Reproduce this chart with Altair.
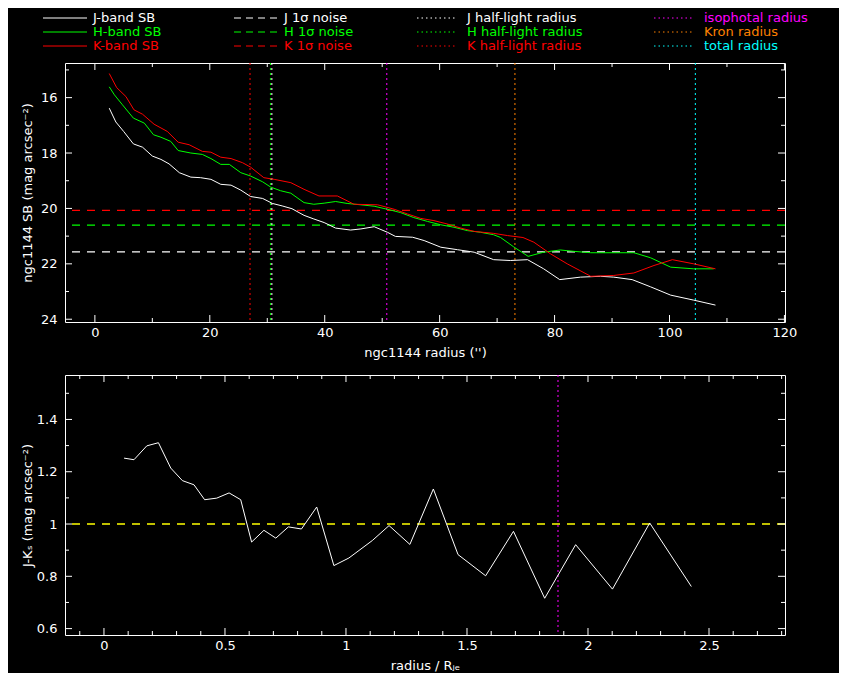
import altair as alt
import pandas as pd

# ---------------- data ----------------
j_r = [2.5, 3.65, 5.0, 6.7, 8.3, 10.0, 11.5, 12.9, 14.7, 16.7, 18.4, 20.2, 21.9, 23.7, 25.4,
       27.1, 29.2, 30.9, 32.6, 34.3, 36.4, 38.1, 39.9, 41.9, 44.5, 46.3, 48.6, 50.9, 52.3, 55.3,
       57.3, 60.2, 63.1, 66.0, 69.4, 72.3, 75.3, 78.1, 80.9, 84.5, 88.0, 90.3, 93.5, 96.7, 100.2,
       104.2, 108.0]
j_sb = [16.38, 16.88, 17.22, 17.67, 17.79, 18.11, 18.23, 18.39, 18.71, 18.87, 18.89, 18.95, 19.13,
        19.16, 19.34, 19.57, 19.64, 19.82, 19.91, 20.01, 20.25, 20.38, 20.51, 20.71, 20.78, 20.74,
        20.66, 20.86, 21.01, 21.04, 21.16, 21.40, 21.49, 21.58, 21.85, 21.88, 21.85, 22.18, 22.57,
        22.48, 22.45, 22.48, 22.57, 22.83, 23.13, 23.31, 23.49]

h_r = [2.5, 3.4, 4.8, 6.7, 8.6, 10.2, 11.5, 13.2, 14.5, 16.7, 18.7, 20.2, 21.9, 23.4, 25.4, 27.1,
       29.2, 30.6, 32.3, 34.1, 36.4, 38.1, 39.9, 41.9, 43.9, 46.3, 48.6, 50.9, 53.2, 55.5, 57.9,
       60.2, 62.5, 64.8, 67.1, 69.4, 70.6, 72.9, 75.4, 78.1, 81.0, 83.4, 86.3, 93.8, 96.7, 100.2,
       104.2, 107.7]
h_sb = [15.61, 15.90, 16.26, 16.74, 16.92, 17.34, 17.43, 17.58, 17.91, 18.00, 18.05, 18.20, 18.41,
        18.41, 18.71, 18.83, 19.04, 19.23, 19.36, 19.45, 19.79, 19.85, 19.81, 19.75, 19.82, 19.87,
        19.92, 20.03, 20.15, 20.33, 20.47, 20.59, 20.68, 20.80, 20.86, 20.95, 21.05, 21.39, 21.73,
        21.58, 21.50, 21.55, 21.60, 21.60, 21.78, 22.12, 22.18, 22.18]

k_r = [2.5, 3.8, 5.4, 6.8, 8.3, 10.3, 12.6, 14.5, 16.4, 18.7, 20.2, 21.9, 23.7, 25.7, 27.1, 29.4,
       31.2, 34.1, 36.4, 39.0, 42.2, 45.1, 49.2, 52.1, 54.4, 56.7, 59.0, 61.3, 63.7, 66.0, 69.4,
       71.8, 74.5, 76.4, 79.3, 82.2, 86.3, 90.3, 93.8, 97.3, 100.5, 104.2, 108.0]
k_sb = [15.13, 15.64, 15.96, 16.44, 16.60, 16.96, 17.22, 17.61, 17.70, 17.94, 17.97, 18.15, 18.20,
        18.35, 18.51, 18.89, 18.95, 19.07, 19.31, 19.55, 19.55, 19.85, 19.87, 20.03, 20.20, 20.36,
        20.44, 20.56, 20.71, 20.83, 20.90, 20.98, 21.05, 21.22, 21.64, 22.00, 22.45, 22.42, 22.33,
        22.06, 21.85, 22.00, 22.18]

noise_band = ["J", "H", "K"]
noise_sb = [21.57, 20.60, 20.07]

radius_names = ["J half-light", "H half-light", "K half-light", "isophotal", "Kron", "total"]
radius_vals = [30.8, 30.55, 27.0, 50.8, 73.1, 104.5]

jk_x = [0.083, 0.124, 0.177, 0.225, 0.276, 0.324, 0.372, 0.416, 0.466, 0.517, 0.565, 0.610,
        0.661, 0.710, 0.762, 0.816, 0.879, 0.950, 1.012, 1.109, 1.178, 1.264, 1.361, 1.463,
        1.577, 1.692, 1.821, 1.949, 2.101, 2.255, 2.427]
jk_val = [1.252, 1.246, 1.299, 1.311, 1.214, 1.166, 1.150, 1.093, 1.099, 1.119, 1.093, 0.931,
          0.976, 0.946, 0.989, 0.981, 1.065, 0.841, 0.870, 0.937, 0.994, 0.922, 1.134, 0.883,
          0.802, 0.972, 0.716, 0.921, 0.751, 1.004, 0.761]
jk_ref = 1.0
iso_rje = 1.876

# tick values
top_xmaj = [0, 20, 40, 60, 80, 100, 120]
top_xmin = [10, 30, 50, 70, 90, 110]
top_ymaj = [16, 18, 20, 22, 24]
top_ymin = [15, 17, 19, 21, 23]
bot_xmaj = [0, 0.5, 1, 1.5, 2, 2.5]
bot_xmin = [-0.1, 0.1, 0.2, 0.3, 0.4, 0.6, 0.7, 0.8, 0.9, 1.1, 1.2, 1.3, 1.4, 1.6, 1.7, 1.8,
            1.9, 2.1, 2.2, 2.3, 2.4, 2.6, 2.7, 2.8]
bot_ymaj = [0.6, 0.8, 1.0, 1.2, 1.4]
bot_ymin = [0.7, 0.9, 1.1, 1.3, 1.5]

# legend content
leg_labels = [["J-band SB", "H-band SB", "K-band SB"],
              ["J 1\u03c3 noise", "H 1\u03c3 noise", "K 1\u03c3 noise"],
              ["J half-light radius", "H half-light radius", "K half-light radius"],
              ["isophotal radius", "Kron radius", "total radius"]]

# ---------------- styles / layout ----------------
WHITE, GREEN, RED = "#ffffff", "#00ff00", "#ff0000"
MAGENTA, ORANGE, CYAN, YELLOW = "#ff00ff", "#ff8000", "#00ffff", "#ffff00"
band_color = {"J": WHITE, "H": GREEN, "K": RED}
radius_color = [WHITE, GREEN, RED, MAGENTA, ORANGE, CYAN]
leg_colors = [[WHITE, GREEN, RED]] * 3 + [[MAGENTA, ORANGE, CYAN]]
leg_styles = ["solid", "dashed", "dotted", "dotted"]
DASH = [8, 7]
DOT = [2, 3]
FONT = "DejaVu Sans"

W = 720
H1 = 259
H2 = 260
MAJ, MIN = 7, 4

leg_line_x0 = [-22, 169, 352, 589]
leg_line_x1 = [22, 212, 391, 629]
leg_text_x = [28, 219, 402, 639]
leg_row_y = [9, 23, 37]


def frame_ticks(xmaj, xmin, ymaj, ymin, X, Y, w, h):
    layers = []
    for vals, L in ((xmaj, MAJ), (xmin, MIN)):
        base = alt.Chart(pd.DataFrame({"x": vals})).mark_rule(color=WHITE, strokeWidth=1)
        layers.append(base.encode(x=X, y=alt.value(h), y2=alt.value(h - L)))
        layers.append(base.encode(x=X, y=alt.value(0), y2=alt.value(L)))
    for vals, L in ((ymaj, MAJ), (ymin, MIN)):
        base = alt.Chart(pd.DataFrame({"y": vals})).mark_rule(color=WHITE, strokeWidth=1)
        layers.append(base.encode(y=Y, x=alt.value(0), x2=alt.value(L)))
        layers.append(base.encode(y=Y, x=alt.value(w - L), x2=alt.value(w)))
    return layers


# ---------------- legend panel ----------------
rows = []
for c in range(4):
    for r in range(3):
        rows.append(dict(label=leg_labels[c][r], color=leg_colors[c][r], style=leg_styles[c],
                         lx0=leg_line_x0[c], lx1=leg_line_x1[c], tx=leg_text_x[c], ly=leg_row_y[r]))
leg_df = pd.DataFrame(rows)
lbase = alt.Chart(leg_df)
lenc = dict(x=alt.X("lx0:Q", scale=None, axis=None), x2="lx1:Q",
            y=alt.Y("ly:Q", scale=None, axis=None), color=alt.Color("color:N", scale=None))
leg_solid = lbase.mark_rule(strokeWidth=1).encode(**lenc).transform_filter(alt.datum.style == "solid")
leg_dash = lbase.mark_rule(strokeWidth=1, strokeDash=[7, 5]).encode(**lenc).transform_filter(alt.datum.style == "dashed")
leg_dot = lbase.mark_rule(strokeWidth=1, strokeDash=[1.5, 3]).encode(**lenc).transform_filter(alt.datum.style == "dotted")
leg_text = lbase.mark_text(align="left", baseline="middle", font=FONT, fontSize=13).encode(
    x=alt.X("tx:Q", scale=None, axis=None), y=alt.Y("ly:Q", scale=None, axis=None),
    text="label:N", color=alt.Color("color:N", scale=None))
legend = alt.layer(leg_solid, leg_dash, leg_dot, leg_text).properties(
    width=W, height=1, view=alt.ViewBackground(stroke="transparent"))

# ---------------- top panel ----------------
tx_scale = alt.Scale(domain=[-5.2, 120.1], nice=False, zero=False)
ty_scale = alt.Scale(domain=[14.75, 24.1], reverse=True, nice=False, zero=False)
tX = alt.X("x:Q", scale=tx_scale,
           axis=alt.Axis(values=top_xmaj, format="d", title="ngc1144 radius ('')", ticks=False,
                         domain=False, grid=False, labelFlush=False, labelOverlap=False,
                         labelPadding=4, titlePadding=7))
tY = alt.Y("y:Q", scale=ty_scale,
           axis=alt.Axis(values=top_ymaj, format="d", title="ngc1144 SB (mag arcsec\u207b\u00b2)",
                         ticks=False, domain=False, grid=False, labelFlush=False, labelOverlap=False,
                         labelPadding=8, titleX=-31))

sb_rows = []
for band, rr, ss in (("J", j_r, j_sb), ("H", h_r, h_sb), ("K", k_r, k_sb)):
    for a, b in zip(rr, ss):
        sb_rows.append(dict(band=band, x=a, y=b, color=band_color[band]))
sb_df = pd.DataFrame(sb_rows)

noise_df = pd.DataFrame({"band": noise_band, "y": noise_sb,
                         "color": [band_color[b] for b in noise_band]})
rad_df = pd.DataFrame({"name": radius_names, "x": radius_vals, "color": radius_color})

top_lines = alt.Chart(sb_df).mark_line(strokeWidth=1).encode(
    x=tX, y=tY, detail="band:N", color=alt.Color("color:N", scale=None))
top_noise = alt.Chart(noise_df).mark_rule(strokeWidth=1.3, strokeDash=DASH).encode(
    y=tY, color=alt.Color("color:N", scale=None))
top_rad = alt.Chart(rad_df).mark_rule(strokeWidth=1, strokeDash=DOT).encode(
    x=tX, color=alt.Color("color:N", scale=None))

top = alt.layer(top_noise, top_rad, top_lines,
                *frame_ticks(top_xmaj, top_xmin, top_ymaj, top_ymin, tX, tY, W, H1)
                ).properties(width=W, height=H1)

# ---------------- bottom panel ----------------
bx_scale = alt.Scale(domain=[-0.161, 2.814], nice=False, zero=False)
by_scale = alt.Scale(domain=[0.5755, 1.570], nice=False, zero=False)
bX = alt.X("x:Q", scale=bx_scale,
           axis=alt.Axis(values=bot_xmaj, format="~g", title="radius / R\u2c7c\u2091", ticks=False,
                         domain=False, grid=False, labelFlush=False, labelOverlap=False,
                         labelPadding=4, titlePadding=7))
bY = alt.Y("y:Q", scale=by_scale,
           axis=alt.Axis(values=bot_ymaj, format="~g", title="J-K\u209b (mag arcsec\u207b\u00b2)",
                         ticks=False, domain=False, grid=False, labelFlush=False, labelOverlap=False,
                         labelPadding=8, titleX=-31))

jk_df = pd.DataFrame({"x": jk_x, "y": jk_val})
ref_df = pd.DataFrame({"y": [jk_ref]})
iso_df = pd.DataFrame({"x": [iso_rje]})

bot_line = alt.Chart(jk_df).mark_line(color=WHITE, strokeWidth=1).encode(x=bX, y=bY)
bot_ref = alt.Chart(ref_df).mark_rule(color=YELLOW, strokeWidth=1.3, strokeDash=DASH).encode(y=bY)
bot_iso = alt.Chart(iso_df).mark_rule(color=MAGENTA, strokeWidth=1, strokeDash=DOT).encode(x=bX)

bottom = alt.layer(bot_ref, bot_iso, bot_line,
                   *frame_ticks(bot_xmaj, bot_xmin, bot_ymaj, bot_ymin, bX, bY, W, H2)
                   ).properties(width=W, height=H2)

chart = alt.vconcat(legend, top, bottom, spacing=53, bounds="flush").configure(
    background="black", padding={"left": 12, "top": 0, "right": 30, "bottom": 0}
).configure_view(stroke=WHITE, strokeWidth=1).configure_axis(
    labelColor=WHITE, titleColor=WHITE, labelFont=FONT, titleFont=FONT,
    labelFontSize=13, titleFontSize=13, titleFontWeight="normal")

chart.save("out.html", embed_options={"renderer": "svg", "actions": False})
